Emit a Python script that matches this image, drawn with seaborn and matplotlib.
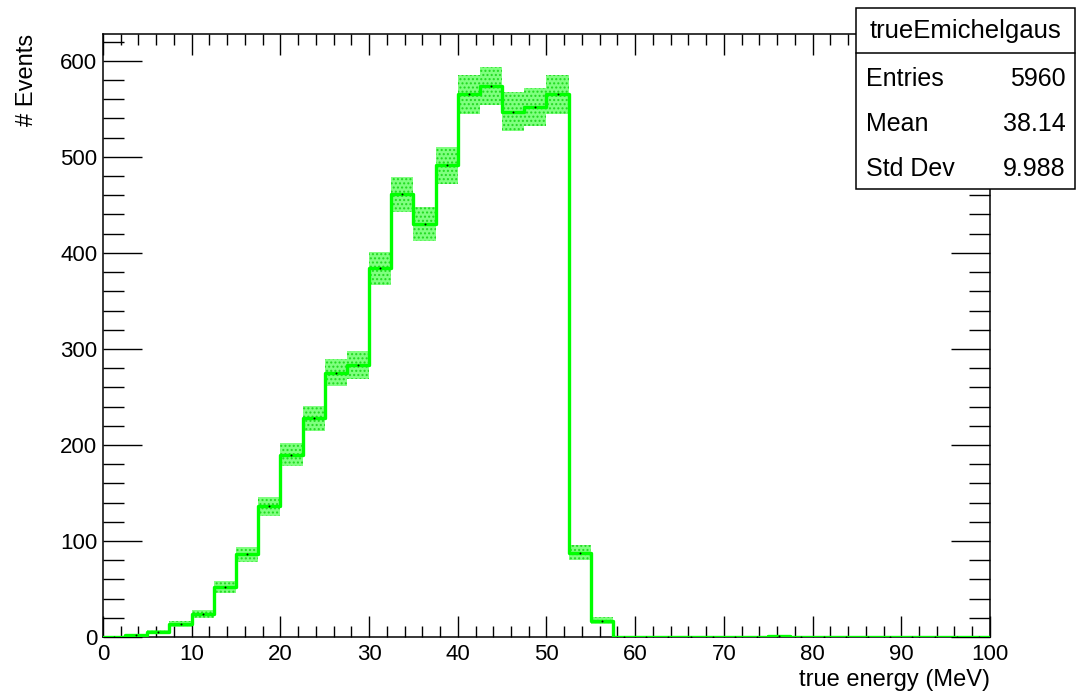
import numpy as np
import matplotlib
matplotlib.use("Agg")
import matplotlib.pyplot as plt
from matplotlib.ticker import MultipleLocator
from matplotlib.patches import Rectangle
from matplotlib.lines import Line2D
import seaborn as sns

# Histogram of true Michel electron energy: 40 bins of 2.5 MeV from 0 to 100
bin_edges = list(np.arange(0, 100.001, 2.5))
counts = [0, 2, 5, 14, 24, 52, 86, 136, 190, 228,
          275, 283, 384, 461, 430, 491, 565, 574, 547, 552,
          565, 88, 17, 0, 0, 0, 0, 0, 0, 0,
          1, 0, 0, 0, 0, 0, 0, 0, 0, 0]
errors = [0, 1.2, 2, 3, 4, 6, 8, 10, 12, 13,
          14, 14.5, 17, 18, 18, 19, 20, 20, 20, 20,
          20, 8, 3.5, 0, 0, 0, 0, 0, 0, 0,
          1, 0, 0, 0, 0, 0, 0, 0, 0, 0]

stats_title = "trueEmichelgaus"
stats_rows = [("Entries", "5960"), ("Mean", "38.14"), ("Std Dev", "9.988")]

sns.set_style("white")
plt.rcParams["font.family"] = ["Liberation Sans", "DejaVu Sans"]
plt.rcParams["text.color"] = "black"
plt.rcParams["axes.labelcolor"] = "black"
plt.rcParams["xtick.color"] = "black"
plt.rcParams["ytick.color"] = "black"

fig = plt.figure(figsize=(10.77, 6.91), dpi=100)
ax = fig.add_axes([0.0956, 0.078, 0.8236, 0.873])

centers = [(bin_edges[i] + bin_edges[i + 1]) / 2 for i in range(len(counts))]
width = bin_edges[1] - bin_edges[0]

# error boxes
vals = np.array(counts, dtype=float)
errs = np.array(errors, dtype=float)
bars = ax.bar(centers, 2 * errs, bottom=vals - errs, width=width, align="center",
              color=(0.0, 1.0, 0.0, 0.5), edgecolor="none", hatch="....", linewidth=0, zorder=1)
for b in bars:
    b.set_edgecolor((0.0, 0.8, 0.0, 0.7))
    b.set_linewidth(0)

# histogram outline
sns.histplot(x=centers, weights=counts, bins=bin_edges, element="step", fill=False,
             color="#00ff00", linewidth=2.4, ax=ax, zorder=3)

# bin-centre markers
ax.scatter(centers, counts, s=2, color="black", zorder=4, linewidths=0)

ax.set_xlim(0, 100)
ax.set_ylim(0, 628)

ax.xaxis.set_major_locator(MultipleLocator(10))
ax.xaxis.set_minor_locator(MultipleLocator(2))
ax.yaxis.set_major_locator(MultipleLocator(100))
ax.yaxis.set_minor_locator(MultipleLocator(20))
ax.tick_params(axis="x", which="major", direction="in", length=15, width=1, top=True, bottom=True,
               labelsize=16, pad=5)
ax.tick_params(axis="x", which="minor", direction="in", length=8, width=1, top=True, bottom=True)
ax.tick_params(axis="y", which="major", direction="in", length=28, width=1, right=True, left=True,
               labelsize=16, pad=4)
ax.tick_params(axis="y", which="minor", direction="in", length=15, width=1, right=True, left=True)
for s in ax.spines.values():
    s.set_color("black")
    s.set_linewidth(1.1)

ax.set_xlabel("true energy (MeV)", fontsize=17, loc="right", labelpad=3)
ax.set_ylabel("# Events", fontsize=17, loc="top", labelpad=16)
ax.grid(False)

# statistics box
W, H = fig.get_size_inches() * fig.dpi
def fx(px):
    return px / W
def fy(py):
    return 1 - py / H

box_l, box_r, box_t, box_b, sep = 856, 1075, 8, 189, 53
fig.patches.append(Rectangle((fx(box_l), fy(box_b)), fx(box_r) - fx(box_l), fy(box_t) - fy(box_b),
                             transform=fig.transFigure, facecolor="white", edgecolor="black",
                             linewidth=1.1, zorder=10))
fig.lines.append(Line2D([fx(box_l), fx(box_r)], [fy(sep), fy(sep)], transform=fig.transFigure,
                        color="black", linewidth=1.1, zorder=11))
fig.text(fx((box_l + box_r) / 2), fy(38), stats_title, ha="center", va="baseline",
         fontsize=18.5, zorder=12)
row_y = [86, 131, 176]
for (name, value), y in zip(stats_rows, row_y):
    fig.text(fx(866), fy(y), name, ha="left", va="baseline", fontsize=18, zorder=12)
    fig.text(fx(1066), fy(y), value, ha="right", va="baseline", fontsize=18, zorder=12)

fig.savefig("out.png", dpi=100)
